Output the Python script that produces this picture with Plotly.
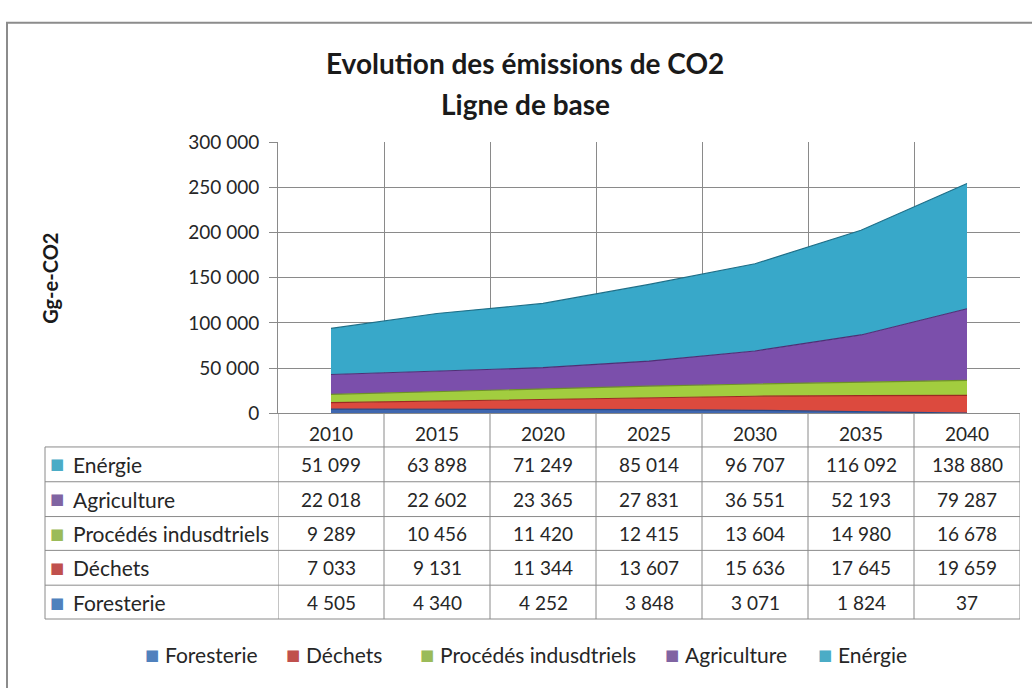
import plotly.graph_objects as go

# data
years = ["2010", "2015", "2020", "2025", "2030", "2035", "2040"]
foresterie = [4505, 4340, 4252, 3848, 3071, 1824, 37]
dechets = [7033, 9131, 11344, 13607, 15636, 17645, 19659]
procedes = [9289, 10456, 11420, 12415, 13604, 14980, 16678]
agriculture = [22018, 22602, 23365, 27831, 36551, 52193, 79287]
energie = [51099, 63898, 71249, 85014, 96707, 116092, 138880]

W, H = 1032, 688
FONT = "Lato"
GRID = "#8a8a8a"
TXT = "#262626"


def px(x):
    return x / W


def py(y):
    return 1 - y / H


def fmt(v):
    return f"{v:,}".replace(",", " ")


# bottom to top of the stack
series = [
    ("Foresterie", foresterie, "#3f67b0", "#2c4a85", "#4F81BD"),
    ("Déchets", dechets, "#dc4a3e", "#9c2a22", "#C0504D"),
    ("Procédés indusdtriels", procedes, "#a2cd3f", "#6e9127", "#9BBB59"),
    ("Agriculture", agriculture, "#7b4fab", "#4e2f75", "#8064A2"),
    ("Enérgie", energie, "#38a8c9", "#1f6f88", "#4BACC6"),
]

fig = go.Figure()
for name, vals, fill, edge, _ in series:
    fig.add_trace(go.Scatter(
        x=years, y=vals, name=name, stackgroup="one", mode="lines",
        line=dict(width=1.2, color=edge), fillcolor=fill,
    ))

shapes = []
annotations = []

# table: horizontal lines
row_lines = [450, 486, 522, 557, 593, 628]
for y in row_lines:
    shapes.append(dict(type="line", xref="paper", yref="paper",
                       x0=px(45), x1=px(1020), y0=py(y), y1=py(y),
                       line=dict(color=GRID, width=1)))
# table: vertical lines below the plot
for i in range(len(years) + 1):
    shapes.append(dict(type="line", xref="x", yref="paper",
                       x0=i - 0.5, x1=i - 0.5, y0=py(415), y1=py(628),
                       line=dict(color=GRID, width=1)))
shapes.append(dict(type="line", xref="paper", yref="paper",
                   x0=px(45), x1=px(45), y0=py(450), y1=py(628),
                   line=dict(color=GRID, width=1)))
# outer chart border
shapes.append(dict(type="rect", xref="paper", yref="paper",
                   x0=px(7), x1=1.02, y0=py(11), y1=-0.02,
                   line=dict(color="#8c8c8c", width=2)))


def square(x, y, color, size=15):
    return dict(xref="paper", yref="paper", x=px(x), y=py(y), xanchor="center",
                yanchor="middle", showarrow=False, text="■",
                font=dict(family="DejaVu Sans", size=size, color=color))


def label(x, y, text, size=21):
    return dict(xref="paper", yref="paper", x=px(x), y=py(y), xanchor="left",
                yanchor="middle", showarrow=False, text=text,
                font=dict(family=FONT, size=size, color=TXT))


# table cells
row_centers = [468, 504, 540, 575, 611]
for (name, vals, _, _, sq), yc in zip(series[::-1], row_centers):
    annotations.append(square(57, yc, sq))
    annotations.append(label(71, yc, name))
    for i, v in enumerate(vals):
        annotations.append(dict(
            xref="x", yref="paper", x=i, y=py(yc), xanchor="center",
            yanchor="middle", showarrow=False, text=fmt(v),
            font=dict(family=FONT, size=19, color=TXT)))

# legend row
legend_x = [152, 293, 427, 672, 825]
for (name, _, _, _, sq), lx in zip(series, legend_x):
    annotations.append(square(lx, 665, sq))
    annotations.append(label(lx + 11, 665, name))

# titles
annotations.append(dict(xref="paper", yref="paper", x=px(525), y=py(53),
                        xanchor="center", yanchor="middle", showarrow=False,
                        text="<b>Evolution des émissions de CO2</b>",
                        font=dict(family=FONT, size=28, color="#1a1a1a")))
annotations.append(dict(xref="paper", yref="paper", x=px(525), y=py(95),
                        xanchor="center", yanchor="middle", showarrow=False,
                        text="<b>Ligne de base</b>",
                        font=dict(family=FONT, size=28, color="#1a1a1a")))
annotations.append(dict(xref="paper", yref="paper", x=px(50), y=py(276),
                        xanchor="center", yanchor="middle", showarrow=False,
                        text="<b>Gg-e-CO2</b>", textangle=-90,
                        font=dict(family=FONT, size=20, color="#1a1a1a")))

fig.update_layout(
    width=W, height=H,
    margin=dict(l=0, r=0, t=0, b=0),
    paper_bgcolor="white", plot_bgcolor="white",
    separators=", ",
    showlegend=False,
    font=dict(family=FONT, size=19, color=TXT),
    xaxis=dict(
        domain=[px(278), px(1020)], type="category", range=[-0.5, 6.5],
        tickson="boundaries", showgrid=True, gridcolor=GRID, gridwidth=1,
        showline=True, linecolor=GRID, ticks="", ticklabelstandoff=4,
        tickfont=dict(family=FONT, size=19, color=TXT),
    ),
    yaxis=dict(
        domain=[py(415), py(135)], range=[0, 300000], dtick=50000,
        tickformat=",d", showgrid=True, gridcolor=GRID, gridwidth=1,
        showline=True, linecolor=GRID, ticks="outside", ticklen=8,
        tickcolor=GRID, zeroline=False, ticklabelstandoff=6,
        tickfont=dict(family=FONT, size=19, color=TXT),
    ),
    shapes=shapes,
    annotations=annotations,
)

fig.write_html("out.html", config={"displayModeBar": False},
               post_script="document.body.style.margin='0';")
